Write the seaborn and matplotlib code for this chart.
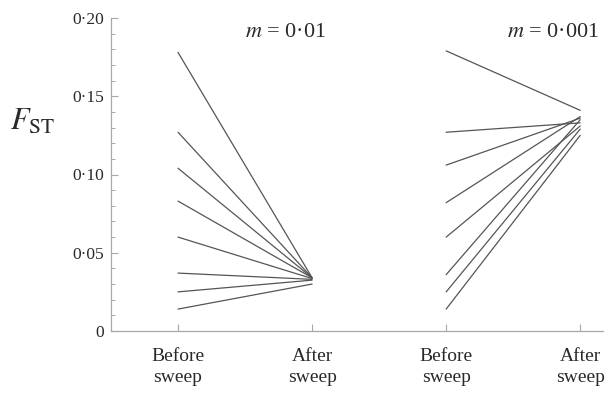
import numpy as np
import pandas as pd
import matplotlib
matplotlib.use("Agg")
import matplotlib.pyplot as plt
import seaborn as sns
from matplotlib.ticker import FixedLocator, MultipleLocator

# F_ST of eight replicate loci before and after a selective sweep
stages = ["Before\nsweep", "After\nsweep"]
panels = ["m = 0·01", "m = 0·001"]
before_m01 = [0.178, 0.127, 0.104, 0.083, 0.060, 0.037, 0.025, 0.014]
after_m01 = [0.034, 0.034, 0.034, 0.034, 0.0335, 0.033, 0.0325, 0.030]
before_m001 = [0.179, 0.127, 0.106, 0.082, 0.060, 0.036, 0.025, 0.014]
after_m001 = [0.141, 0.133, 0.136, 0.137, 0.131, 0.135, 0.129, 0.125]
y_ticks = [0.0, 0.05, 0.10, 0.15, 0.20]

rows = []
for p, (bef, aft) in enumerate([(before_m01, after_m01), (before_m001, after_m001)]):
    for i, (b, a) in enumerate(zip(bef, aft)):
        rows.append(dict(panel=p, locus=f"{p}-{i}", pos=2 * p, fst=b))
        rows.append(dict(panel=p, locus=f"{p}-{i}", pos=2 * p + 1, fst=a))
df = pd.DataFrame(rows)

sns.set_theme(style="ticks")
plt.rcParams["font.family"] = ["Liberation Serif", "DejaVu Serif"]
plt.rcParams["mathtext.fontset"] = "stix"

fig = plt.figure(figsize=(6.13, 3.93), dpi=100)
ax = fig.add_axes([111 / 613, 62 / 393, 492 / 613, 313 / 393])

sns.lineplot(data=df, x="pos", y="fst", units="locus", estimator=None,
             color="#555555", linewidth=0.9, ax=ax, legend=False)

ax.set_xlim(-0.5, 3.17)
ax.set_ylim(0, 0.20)

spine_col = "#a8a8a8"
for side in ["top", "right"]:
    ax.spines[side].set_visible(False)
for side in ["left", "bottom"]:
    ax.spines[side].set_color(spine_col)
    ax.spines[side].set_linewidth(0.9)

ax.xaxis.set_major_locator(FixedLocator(range(4)))
ax.set_xticklabels(stages * 2)
ax.yaxis.set_major_locator(FixedLocator(y_ticks))
ax.set_yticklabels(["0" if v == 0 else f"{v:.2f}".replace(".", "·") for v in y_ticks])
ax.yaxis.set_minor_locator(MultipleLocator(0.01))

ax.tick_params(axis="both", which="major", direction="in", length=5,
               width=0.8, color=spine_col, labelcolor="#2a2a2a")
ax.tick_params(axis="y", which="minor", direction="in", length=3,
               width=0.7, color=spine_col)
ax.tick_params(axis="x", pad=12, labelsize=14)
ax.tick_params(axis="y", pad=5, labelsize=12.5)
for lab in ax.get_xticklabels():
    lab.set_linespacing(1.3)

ax.set_xlabel("")
ax.set_ylabel(r"$F_{\mathrm{ST}}$", rotation=0, fontsize=22, color="#2a2a2a",
              va="center", ha="center")
ax.yaxis.set_label_coords(-0.16, 0.668)

for p, label in enumerate(panels):
    txt = r"$m$" + label[1:]
    ax.text(2 * p + 0.8, 0.1905, txt, ha="center", va="center",
            fontsize=16, color="#2a2a2a")

fig.savefig("out.png", dpi=100)
